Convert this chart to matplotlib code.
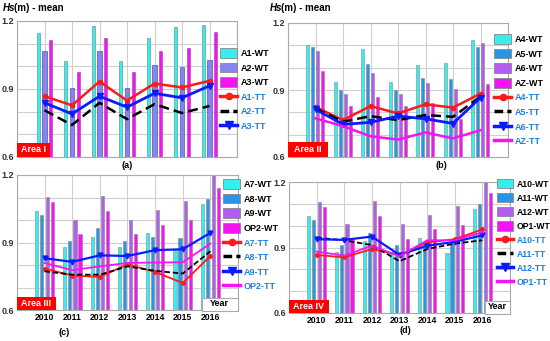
import matplotlib
matplotlib.use('Agg')
import matplotlib.pyplot as plt
from matplotlib.patches import Patch, Rectangle
from matplotlib.lines import Line2D
import numpy as np

plt.rcParams['font.family'] = ['Liberation Sans', 'DejaVu Sans']

# years on the x axis
years = ['2010', '2011', '2012', '2013', '2014', '2015', '2016']

# panel (a) - Area I
a_wt_names = ['A1-WT', 'A2-WT', 'A3-WT']
a1_wt = [1.148, 1.024, 1.178, 1.024, 1.126, 1.173, 1.183]
a2_wt = [1.066, 0.903, 1.066, 0.903, 1.008, 0.997, 1.028]
a3_wt = [1.116, 0.973, 1.124, 0.973, 1.066, 1.082, 1.152]
a_tt_names = ['A1-TT', 'A2-TT', 'A3-TT']
a1_tt = [0.868, 0.828, 0.933, 0.849, 0.924, 0.907, 0.936]
a2_tt = [0.806, 0.741, 0.839, 0.767, 0.833, 0.794, 0.825]
a3_tt = [0.839, 0.790, 0.868, 0.820, 0.881, 0.861, 0.914]

# panel (b) - Area II
b_wt_names = ['A4-WT', 'A5-WT', 'A6-WT', 'AZ-WT']
a4_wt = [1.103, 0.936, 1.083, 0.936, 1.013, 1.020, 1.122]
a5_wt = [1.092, 0.900, 1.017, 0.900, 0.953, 0.948, 1.092]
a6_wt = [1.076, 0.882, 0.974, 0.882, 0.932, 0.905, 1.109]
az_wt = [0.983, 0.828, 0.870, 0.828, 0.840, 0.768, 0.929]
b_tt_names = ['A4-TT', 'A5-TT', 'A6-TT', 'AZ-TT']
a4_tt = [0.824, 0.765, 0.828, 0.795, 0.836, 0.821, 0.884]
a5_tt = [0.818, 0.758, 0.783, 0.765, 0.788, 0.780, 0.870]
a6_tt = [0.813, 0.746, 0.755, 0.783, 0.771, 0.750, 0.866]
az_tt = [0.773, 0.738, 0.693, 0.678, 0.710, 0.683, 0.720]

# panel (c) - Area III
c_wt_names = ['A7-WT', 'A8-WT', 'A9-WT', 'OP2-WT']
a7_wt = [1.040, 0.878, 0.924, 0.878, 0.943, 0.866, 1.071]
a8_wt = [1.023, 0.907, 0.964, 0.907, 0.924, 0.922, 1.093]
a9_wt = [1.102, 1.002, 1.106, 1.002, 1.043, 1.086, 1.210]
op2_wt = [1.080, 0.937, 1.038, 0.937, 0.980, 0.998, 1.141]
c_tt_names = ['A7-TT', 'A8-TT', 'A9-TT', 'OP2-TT']
a7_tt = [0.784, 0.753, 0.747, 0.803, 0.769, 0.720, 0.840]
a8_tt = [0.772, 0.757, 0.757, 0.794, 0.774, 0.762, 0.861]
a9_tt = [0.830, 0.814, 0.843, 0.840, 0.866, 0.870, 0.943]
op2_tt = [0.809, 0.777, 0.794, 0.809, 0.811, 0.812, 0.895]

# panel (d) - Area IV
d_wt_names = ['A10-WT', 'A11-WT', 'A12-WT', 'OP1-WT']
a10_wt = [1.046, 0.881, 0.929, 0.878, 0.945, 0.873, 1.076]
a11_wt = [1.028, 0.911, 0.968, 0.911, 0.924, 0.926, 1.098]
a12_wt = [1.109, 1.007, 1.113, 1.007, 1.047, 1.091, 1.210]
op1_wt = [1.085, 0.937, 1.043, 0.941, 0.983, 1.002, 1.148]
d_tt_names = ['A10-TT', 'A11-TT', 'A12-TT', 'OP1-TT']
a10_tt = [0.866, 0.855, 0.893, 0.866, 0.923, 0.938, 0.983]
a11_tt = [0.945, 0.933, 0.911, 0.837, 0.893, 0.918, 0.933]
a12_tt = [0.938, 0.935, 0.950, 0.866, 0.908, 0.926, 0.956]
op1_tt = [0.881, 0.863, 0.908, 0.860, 0.933, 0.933, 0.970]

CYAN = '#36eeee'
LAV = '#8585f2'
BLUE = '#2b94e6'
PURP = '#b45cf0'
MAG = '#f414f4'
RED = '#ff1a1a'
LBLUE = '#0a1cff'
TXT_BLUE = '#2080d8'
FS = 6.5

W, H = 550, 341
fig = plt.figure(figsize=(W / 100, H / 100), dpi=100)


def px_axes(l, t, r, b):
    return fig.add_axes([l / W, 1 - b / H, (r - l) / W, (b - t) / H])


def style(ax, show_years):
    ax.set_xlim(-1, 7)
    ax.set_ylim(0.6, 1.2)
    ax.set_yticks([0.6, 0.9, 1.2])
    ax.set_yticks(np.arange(0.6, 1.21, 0.1), minor=True)
    ax.set_yticklabels(['0.6', '0.9', '1.2'], fontsize=FS, fontweight='bold', color='#333333')
    ax.set_xticks(range(-1, 8), minor=True)
    ax.set_xticks(range(7))
    if show_years:
        ax.set_xticklabels(years, fontsize=6.2, fontweight='bold')
    else:
        ax.set_xticklabels([])
    ax.tick_params(which='both', length=0, pad=2)
    ax.grid(True, which='both', color='#cfcfcf', lw=0.8)
    ax.set_axisbelow(True)
    for s in ax.spines.values():
        s.set_color('#aaaaaa')
        s.set_linewidth(0.8)


def area_box(ax, text, w, h):
    ax.add_patch(Rectangle((0, 0), w, h, transform=ax.transAxes, facecolor='#ff0000',
                           edgecolor='none', zorder=10, clip_on=False))
    ax.text(w / 2, h / 2, text, transform=ax.transAxes, color='white', fontsize=FS,
            fontweight='bold', ha='center', va='center', zorder=11)


def year_box(ax, x0, h):
    ax.add_patch(Rectangle((x0, -0.01), 1 - x0, h, transform=ax.transAxes, facecolor='white',
                           edgecolor='#aaaaaa', lw=0.8, zorder=10, clip_on=False))
    ax.text((x0 + 1) / 2, h / 2, 'Year', transform=ax.transAxes, fontsize=FS,
            fontweight='bold', ha='center', va='center', zorder=11)


def legend(x, y, wt_names, wt_cols, tt_styles, tt_names, fs=FS):
    handles = [Patch(facecolor=c, edgecolor='#888888', lw=0.6) for c in wt_cols]
    for st in tt_styles:
        handles.append(Line2D([], [], **st))
    leg = fig.legend(handles, wt_names + tt_names, loc='upper left',
                     bbox_to_anchor=(x / W, 1 - y / H), frameon=False,
                     prop={'size': fs, 'weight': 'bold'}, handlelength=1.9,
                     handleheight=1.3, labelspacing=0.52, handletextpad=0.35,
                     borderpad=0, borderaxespad=0)
    for i, t in enumerate(leg.get_texts()):
        if i >= len(wt_names):
            t.set_color(TXT_BLUE)


def title(x):
    fig.text(x / W, 1 - 8 / H, 'Hs', fontsize=7, fontweight='bold', style='italic', va='center')
    fig.text((x + 11) / W, 1 - 8 / H, '(m) - mean', fontsize=7, fontweight='bold', va='center')


x = np.arange(7)
tt3 = [dict(color=RED, lw=2.5, marker='o', ms=4.5),
       dict(color='black', lw=2.5, ls=(0, (2.5, 1.2))),
       dict(color=LBLUE, lw=2.5, marker='v', ms=5.5)]
tt4 = tt3 + [dict(color=MAG, lw=2.5)]

# ---------------- (a) ----------------
ax = px_axes(17, 21, 237, 157)
style(ax, False)
ax.bar(x - 0.22, a1_wt, 0.11, color=CYAN, edgecolor='#6a9a9a', lw=0.5)
ax.bar(x, a2_wt, 0.15, color=LAV, edgecolor='#5555aa', lw=0.5)
ax.bar(x + 0.23, a3_wt, 0.12, color=MAG, edgecolor='#aa55aa', lw=0.5)
ax.plot(x, a1_tt, color=RED, lw=1.8, marker='o', ms=3, zorder=5)
ax.plot(x, a2_tt, color='black', lw=1.8, ls=(0, (4, 2)), zorder=5)
ax.plot(x, a3_tt, color=LBLUE, lw=2.0, marker='v', ms=4, zorder=5)
area_box(ax, 'Area I', 0.15, 0.105)
ax.text(0.5, -0.06, '(a)', transform=ax.transAxes, ha='center', va='center', fontsize=FS, fontweight='bold')
legend(220, 48, a_wt_names, [CYAN, LAV, MAG], tt3, a_tt_names)
title(3)

# ---------------- (b) ----------------
ax = px_axes(288, 23, 508, 157)
style(ax, False)
for off, vals, c in zip([-0.28, -0.1, 0.08, 0.27], [a4_wt, a5_wt, a6_wt, az_wt], [CYAN, BLUE, PURP, MAG]):
    ax.bar(x + off, vals, 0.11, color=c, edgecolor='#888888', lw=0.4)
ax.plot(x, a4_tt, color=RED, lw=1.8, marker='o', ms=3, zorder=5)
ax.plot(x, a5_tt, color='black', lw=1.8, ls=(0, (4, 2)), zorder=5)
ax.plot(x, a6_tt, color=LBLUE, lw=2.0, marker='v', ms=4, zorder=5)
ax.plot(x, az_tt, color=MAG, lw=1.8, zorder=5)
area_box(ax, 'Area II', 0.18, 0.11)
ax.text(0.695, -0.06, '(b)', transform=ax.transAxes, ha='center', va='center', fontsize=FS, fontweight='bold')
legend(494, 34, b_wt_names, [CYAN, BLUE, PURP, MAG], tt4, b_tt_names)
title(270)

# ---------------- (c) ----------------
ax = px_axes(17, 175, 238, 310)
style(ax, True)
for off, vals, c in zip([-0.28, -0.1, 0.1, 0.28], [a7_wt, a8_wt, a9_wt, op2_wt], [CYAN, BLUE, PURP, MAG]):
    ax.bar(x + off, vals, 0.11, color=c, edgecolor='#888888', lw=0.4)
ax.plot(x, a7_tt, color=RED, lw=1.3, marker='o', ms=2.5, zorder=5)
ax.plot(x, a8_tt, color='black', lw=1.3, ls=(0, (3, 1.5)), zorder=5)
ax.plot(x, a9_tt, color=LBLUE, lw=1.6, marker='v', ms=3.5, zorder=5)
ax.plot(x, op2_tt, color=MAG, lw=1.3, zorder=5)
area_box(ax, 'Area III', 0.175, 0.1)
year_box(ax, 0.835, 0.1)
ax.text(47 / 221, -0.163, '(c)', transform=ax.transAxes, ha='center', va='center', fontsize=FS, fontweight='bold')
legend(223, 179, c_wt_names, [CYAN, BLUE, PURP, MAG], tt4, c_tt_names)

# ---------------- (d) ----------------
ax = px_axes(289, 182, 510, 313)
style(ax, True)
for off, vals, c in zip([-0.28, -0.1, 0.1, 0.28], [a10_wt, a11_wt, a12_wt, op1_wt], [CYAN, BLUE, PURP, MAG]):
    ax.bar(x + off, vals, 0.11, color=c, edgecolor='#888888', lw=0.4)
ax.plot(x, a10_tt, color=RED, lw=1.3, marker='o', ms=2.5, zorder=5)
ax.plot(x, a11_tt, color='black', lw=1.3, ls=(0, (3, 1.5)), zorder=5)
ax.plot(x, a12_tt, color=LBLUE, lw=1.6, marker='v', ms=3.5, zorder=5)
ax.plot(x, op1_tt, color=MAG, lw=1.3, zorder=5)
area_box(ax, 'Area IV', 0.18, 0.1)
year_box(ax, 0.885, 0.1)
ax.text(0.526, -0.137, '(d)', transform=ax.transAxes, ha='center', va='center', fontsize=FS, fontweight='bold')
legend(497, 179, d_wt_names, [CYAN, BLUE, PURP, MAG], tt4, d_tt_names, fs=6.2)

fig.savefig('out.png', dpi=100)
